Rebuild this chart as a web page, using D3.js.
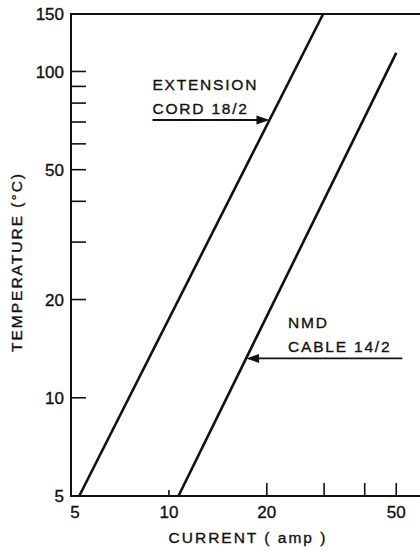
<!DOCTYPE html>
<html lang="en">
<head>
    <meta charset="UTF-8">
    <title>Temperature vs Current</title>
    <script src="https://d3js.org/d3.v7.min.js"></script>
    <style>
        body { margin: 0; background: #fff; }
        svg { display: block; }
        text { font-family: "Liberation Sans", Arial, sans-serif; fill: #111; stroke: #111; stroke-width: 0.35px; }
        .tick-label { font-size: 17px; }
        .axis-title { font-size: 15.5px; letter-spacing: 2px; }
        .note { font-size: 15.5px; letter-spacing: 1.8px; }
    </style>
</head>
<body>
    <svg id="chart" width="420" height="552"></svg>

    <script>
        // line data (current in amp, temperature in deg C)
        const extCurrent = [5.3, 29.8];
        const extTemp = [5, 150];
        const nmdCurrent = [10.7, 50];
        const nmdTemp = [5, 114];

        // ticks
        const yTickValues = [10, 20, 30, 40, 50, 60, 70, 80, 90, 100];
        const yLabelValues = [5, 10, 20, 50, 100, 150];
        const xTickValues = [10, 20, 30, 40, 50];
        const xLabelValues = [5, 10, 20, 50];

        // annotations: label lines, arrow tail current, temperature where arrow hits
        const extLabel = ["EXTENSION", "CORD 18/2"];
        const extArrow = { tail: 8.9, temp: 71 };
        const nmdLabel = ["NMD", "CABLE 14/2"];
        const nmdArrow = { tail: 52.2, temp: 13.2 };

        const svg = d3.select("#chart");

        const x = d3.scaleLog().domain([5, 60]).range([71, 422]);
        const y = d3.scaleLog().domain([5, 150]).range([496, 14]);

        const line = d3.line()
            .x(d => x(d[0]))
            .y(d => y(d[1]));

        // frame: left, bottom, top
        svg.append("path")
            .attr("d", `M${x(60)},${y(150)}H${x(5)}V${y(5)}H${x(60)}`)
            .attr("fill", "none")
            .attr("stroke", "#111")
            .attr("stroke-width", 2);

        // y ticks (inward)
        svg.append("g")
            .selectAll("line")
            .data(yTickValues)
            .join("line")
            .attr("x1", x(5))
            .attr("x2", x(5) + 15)
            .attr("y1", d => y(d))
            .attr("y2", d => y(d))
            .attr("stroke", "#111")
            .attr("stroke-width", 1.6);

        svg.append("g")
            .selectAll("text")
            .data(yLabelValues)
            .join("text")
            .attr("class", "tick-label")
            .attr("x", x(5) - 7)
            .attr("y", d => y(d))
            .attr("dy", "0.36em")
            .attr("text-anchor", "end")
            .text(d => d);

        // x ticks (inward, upward)
        svg.append("g")
            .selectAll("line")
            .data(xTickValues)
            .join("line")
            .attr("x1", d => x(d))
            .attr("x2", d => x(d))
            .attr("y1", y(5))
            .attr("y2", d => y(5) - (d === 10 ? 6 : 13))
            .attr("stroke", "#111")
            .attr("stroke-width", 1.6);

        svg.append("g")
            .selectAll("text")
            .data(xLabelValues)
            .join("text")
            .attr("class", "tick-label")
            .attr("x", d => x(d) + (d === 5 ? 4 : 0))
            .attr("y", y(5) + 22)
            .attr("text-anchor", "middle")
            .text(d => d);

        // axis titles
        svg.append("text")
            .attr("class", "axis-title")
            .attr("x", 248)
            .attr("y", 543)
            .attr("text-anchor", "middle")
            .text("CURRENT ( amp )");

        svg.append("text")
            .attr("class", "axis-title")
            .attr("transform", "translate(22,262) rotate(-90)")
            .attr("text-anchor", "middle")
            .text("TEMPERATURE (°C)");

        // the two cable lines
        const series = [
            d3.zip(extCurrent, extTemp),
            d3.zip(nmdCurrent, nmdTemp)
        ];
        svg.append("g")
            .selectAll("path")
            .data(series)
            .join("path")
            .attr("d", line)
            .attr("fill", "none")
            .attr("stroke", "#111")
            .attr("stroke-width", 2.6);

        // current on a log-log straight line at a given temperature
        function currentAt(cur, temp, t) {
            const k = Math.log(cur[1] / cur[0]) / Math.log(temp[1] / temp[0]);
            return cur[0] * Math.pow(t / temp[0], k);
        }

        function annotate(labels, arrow, cur, temp, textX) {
            const ay = y(arrow.temp);
            const tipX = x(currentAt(cur, temp, arrow.temp));
            const tailX = x(arrow.tail);
            const dir = tipX > tailX ? 1 : -1;

            svg.append("line")
                .attr("x1", tailX)
                .attr("x2", tipX - dir * 10)
                .attr("y1", ay)
                .attr("y2", ay)
                .attr("stroke", "#111")
                .attr("stroke-width", 1.8);

            svg.append("path")
                .attr("d", `M${tipX},${ay}L${tipX - dir * 13},${ay - 4.5}L${tipX - dir * 13},${ay + 4.5}Z`)
                .attr("fill", "#111");

            svg.append("g")
                .selectAll("text")
                .data(labels)
                .join("text")
                .attr("class", "note")
                .attr("x", textX(tailX, tipX))
                .attr("y", (d, i) => ay - 30 + i * 24)
                .text(d => d);
        }

        annotate(extLabel, extArrow, extCurrent, extTemp, (tail) => tail);
        annotate(nmdLabel, nmdArrow, nmdCurrent, nmdTemp, (tail, tip) => tip + 42);
    </script>
</body>
</html>
